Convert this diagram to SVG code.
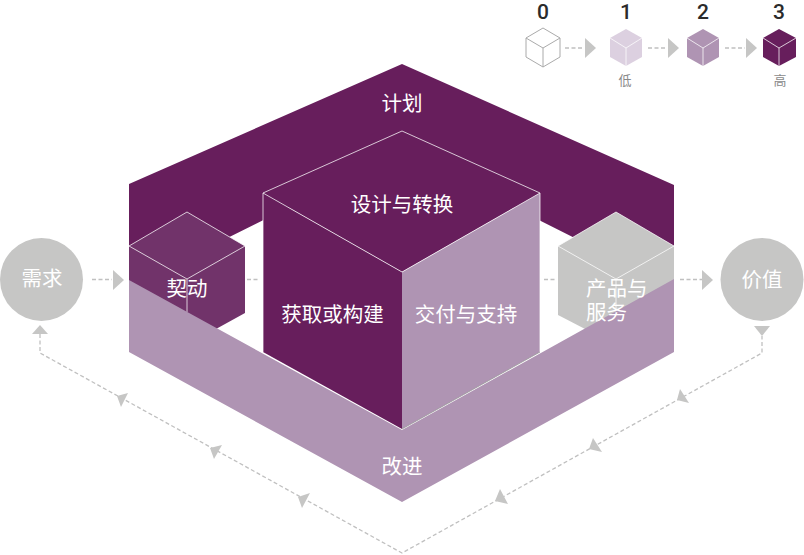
<svg xmlns="http://www.w3.org/2000/svg" width="804" height="555" viewBox="0 0 804 555">
<style>
text{font-family:"Noto Sans CJK SC","Noto Sans",sans-serif;}
.lbl{fill:#fff;font-size:20.500px;text-anchor:middle;}
.lblL{fill:#fff;font-size:20.500px;}
.num{font-family:Roboto,"Liberation Sans",sans-serif;fill:#2b2b2b;font-size:21px;font-weight:500;text-anchor:middle;}
.sub{fill:#8a8a8a;font-size:13px;text-anchor:middle;}
.dark{fill:#671e5c;}
.light{fill:#af94b3;}
.edge{fill:none;stroke:#fff;stroke-width:1;opacity:.75;}
.dash{fill:none;stroke:#c0c0c0;stroke-width:1.300;stroke-dasharray:4 2.500;}
.tri{fill:#c6c6c5;}
</style>
<rect width="804" height="555" fill="#fff"/>
<g id="plan">
<polygon class="dark" points="402,64 674,185 674,288 402,151 129,287 129,184"/>
<text class="lbl" x="402" y="111">计划</text>
</g>
<g id="connectors">
<path class="dash" d="M92 279.500H112M680 279.500H702M247 279.500H258M544 279.500H555"/>
<polygon class="tri" points="113,270 124,280 113,290"/>
<polygon class="tri" points="702,270 713,280 702,290"/>
<path class="dash" d="M40 334V353L402 553L762 353V336"/>
<polygon class="tri" points="40,325 48,334 32,334"/>
<polygon class="tri" points="754,326 770,326 762,336"/>
<polygon class="tri" points="117,396 128,393 121,407"/>
<polygon class="tri" points="210,448 222,445 214,459"/>
<polygon class="tri" points="298,497 310,493 302,508"/>
<polygon class="tri" points="677,400 680,389 689,403"/>
<polygon class="tri" points="589,449 593,438 602,452"/>
<polygon class="tri" points="495,501 500,489 508,504"/>
<path class="dash" d="M565 48H583M648 48H667M725 48H745"/>
<polygon class="tri" points="585,38 596,48 585,58"/>
<polygon class="tri" points="668,38 679,48 668,58"/>
<polygon class="tri" points="746,38 757,48 746,58"/>
</g>
<g id="engage">
<polygon fill="#71336a" points="187,212 245,246 245,313 187,345 129,313 129,246"/>
<path class="edge" d="M129 246L187 212L245 246L187 279ZM187 279V312"/>
</g>
<g id="product">
<polygon fill="#c6c6c5" points="616,212 674,246 674,315 616,345 558,315 558,246"/>
<path class="edge" d="M558 246L616 212L674 246L616 279ZM616 279V312"/>
</g>
<g id="improve">
<polygon class="light" points="129,280 402,430 674,279 674,352 402,502 129,352"/>
<text class="lbl" x="402" y="474">改进</text>
</g>
<g id="design">
<polygon class="dark" points="402,131 540,193 402,272 263,193"/>
<polygon class="dark" points="263,193 402,272 402,429 263,352"/>
<polygon class="light" points="540,193 402,272 402,429 540,352"/>
<path class="edge" d="M263 352V193L402 131L540 193V352M263 193L402 272L540 193"/>
<path d="M402 429L540 352" fill="none" stroke="#999" stroke-width=".8"/>
<text class="lbl" x="402" y="212">设计与转换</text>
<text class="lbl" x="332.500" y="322">获取或构建</text>
<text class="lbl" x="466" y="322">交付与支持</text>
</g>
<g id="engage-label"><text class="lbl" x="187" y="296">契动</text></g>
<g id="product-label">
<text class="lblL"><tspan x="586" y="296">产品与</tspan><tspan x="586" y="320">服务</tspan></text>
</g>
<g id="demand">
<circle cx="41.500" cy="279.500" r="41.500" fill="#c6c6c5"/>
<text class="lbl" x="42" y="286">需求</text>
</g>
<g id="value">
<circle cx="762" cy="279.500" r="41.500" fill="#c6c6c5"/>
<text class="lbl" x="762" y="287">价值</text>
</g>
<g id="legend-0">
<text class="num" x="543" y="19">0</text>
<path d="M543 28L560 38V57L543 67L526 57V38Z" fill="#fff" stroke="#aaa" stroke-width="1"/>
<path d="M526 38L543 48L560 38M543 48V67" fill="none" stroke="#aaa" stroke-width="1"/>
</g>
<g id="legend-1">
<text class="num" x="626" y="19">1</text>
<path d="M626 29L642 38V57L626 66L610 57V38Z" fill="#dcd0e0"/>
<path class="edge" d="M610 38L626 48L642 38M626 48V66"/>
<text class="sub" x="625" y="85">低</text>
</g>
<g id="legend-2">
<text class="num" x="703" y="19">2</text>
<path d="M703 29L719 38V57L703 66L687 57V38Z" fill="#af94b3"/>
<path class="edge" d="M687 38L703 48L719 38M703 48V66"/>
</g>
<g id="legend-3">
<text class="num" x="779" y="19">3</text>
<path d="M779 29L796 38V57L779 66L763 57V38Z" fill="#671e5c"/>
<path class="edge" d="M763 38L779 48L796 38M779 48V66"/>
<text class="sub" x="780" y="85">高</text>
</g>
</svg>
